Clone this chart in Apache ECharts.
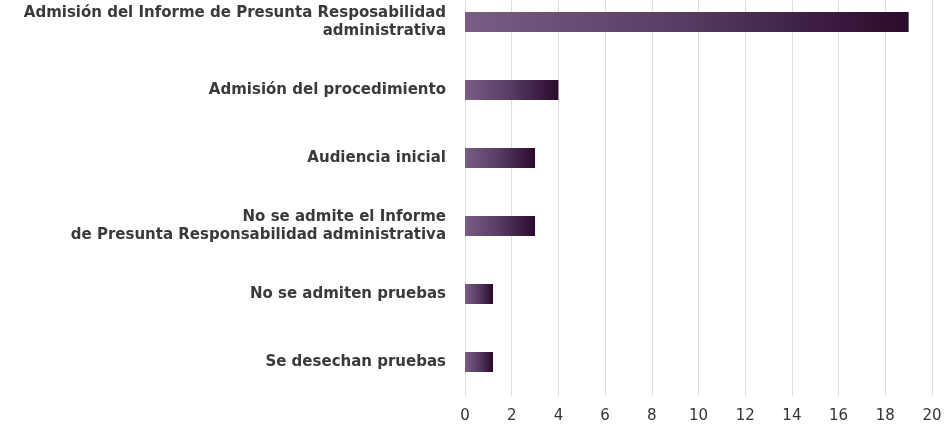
<!DOCTYPE html>
<html>
<head>
<meta charset="utf-8">
<script src="https://cdn.jsdelivr.net/npm/echarts@6/dist/echarts.min.js"></script>
<style>
html,body{margin:0;padding:0;background:#ffffff;}
#chart{width:948px;height:425px;}
</style>
</head>
<body>
<div id="chart"></div>
<script>
const categories = [
  "Admisión del Informe de Presunta Resposabilidad\nadministrativa",
  "Admisión del procedimiento",
  "Audiencia inicial",
  "No se admite el Informe\nde Presunta Responsabilidad administrativa",
  "No se admiten pruebas",
  "Se desechan pruebas"
];
const values = [19, 4, 3, 3, 1.2, 1.2];
const xTicks = [0, 2, 4, 6, 8, 10, 12, 14, 16, 18, 20];

const chart = echarts.init(document.getElementById('chart'), null, {renderer: 'canvas'});
chart.setOption({
  backgroundColor: '#ffffff',
  animation: false,
  grid: {left: 465, right: 16, top: -12, height: 408, containLabel: false, outerBoundsMode: 'none'},
  xAxis: {
    type: 'value',
    min: xTicks[0],
    max: xTicks[xTicks.length - 1],
    interval: 2,
    axisLine: {show: false},
    axisTick: {show: false},
    splitLine: {show: true, lineStyle: {color: '#dcdcdc', width: 1}},
    axisLabel: {
      color: '#333333',
      fontSize: 15,
      fontFamily: 'DejaVu Sans',
      margin: 13
    }
  },
  yAxis: {
    type: 'category',
    inverse: true,
    data: categories,
    axisLine: {show: false},
    axisTick: {show: false},
    splitLine: {show: false},
    axisLabel: {
      color: '#3a3a3a',
      fontSize: 15,
      fontWeight: 'bold',
      fontFamily: 'DejaVu Sans',
      lineHeight: 18,
      align: 'right',
      margin: 19
    }
  },
  series: [{
    type: 'bar',
    data: values,
    barWidth: 20,
    itemStyle: {
      color: new echarts.graphic.LinearGradient(0, 0, 1, 0, [
        {offset: 0, color: '#7a5d84'},
        {offset: 0.5, color: '#583a62'},
        {offset: 1, color: '#2a0a2c'}
      ])
    }
  }]
});
</script>
</body>
</html>
